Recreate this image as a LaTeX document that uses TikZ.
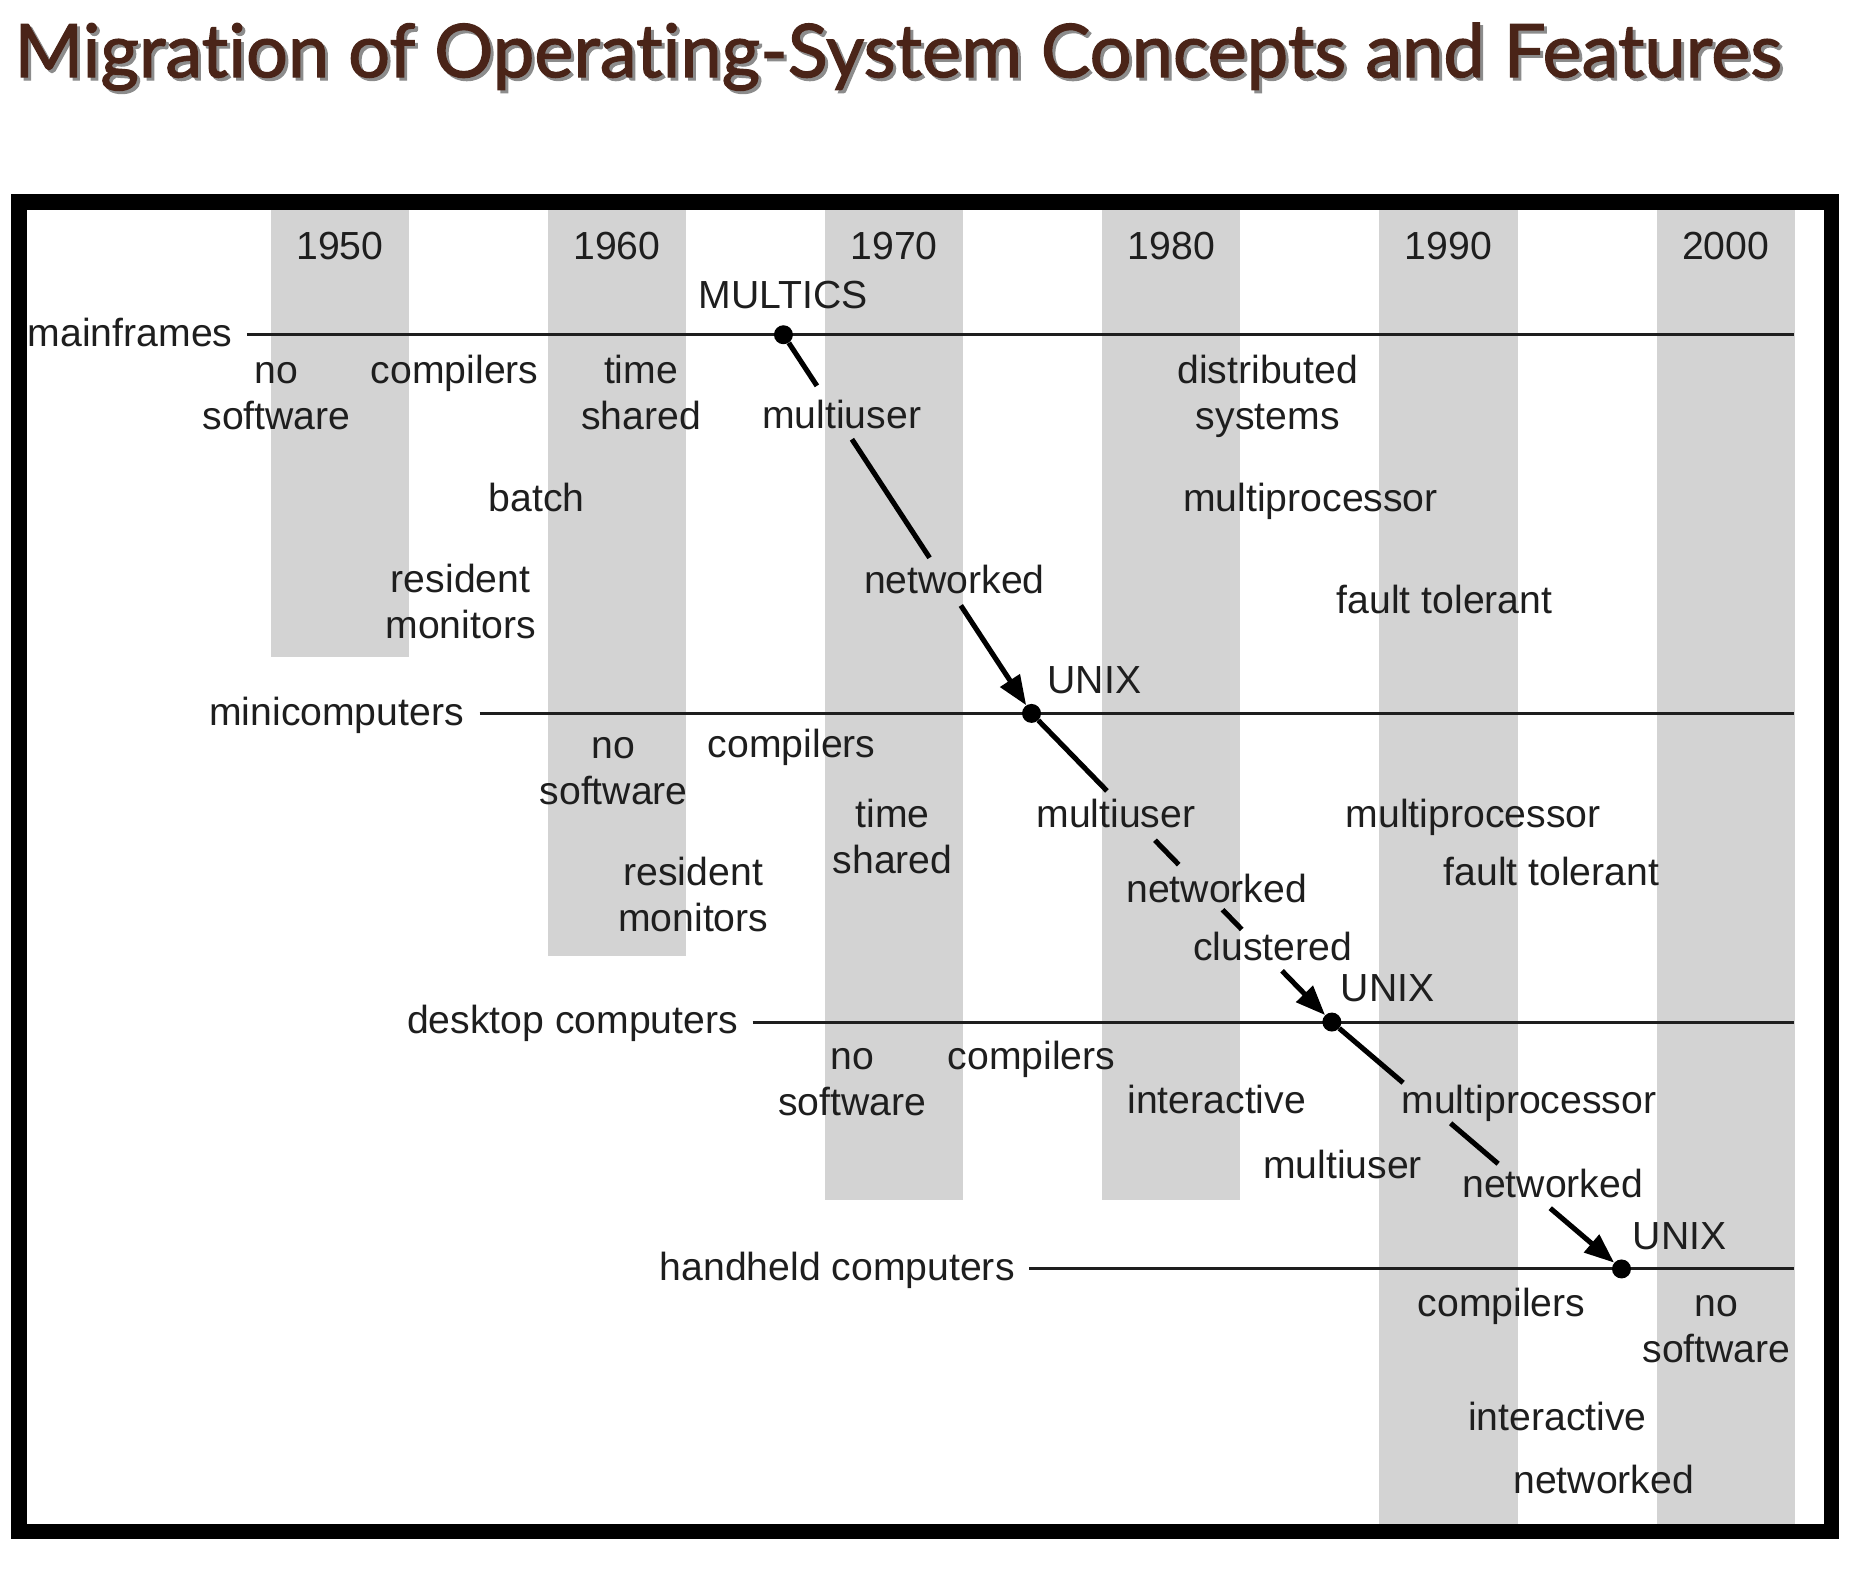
\documentclass[tikz,border=0pt]{standalone}
\usepackage{graphicx}
\usepackage{fontspec}
\setmainfont{Liberation Sans}
\newfontfamily\titlefont[FakeBold=1.6,Ligatures=NoCommon]{Lato}
\usetikzlibrary{arrows.meta,calc}
\definecolor{bandgrey}{RGB}{211,211,211}
\definecolor{titlebrown}{RGB}{74,36,24}
\definecolor{ink}{RGB}{30,30,30}
\begin{document}
\begin{tikzpicture}[x=1pt,y=-1pt,
  lbl/.style={inner sep=0pt, anchor=base, align=center, text=ink, font=\fontsize{33}{38.5}\selectfont},
  axislbl/.style={lbl, anchor=base east},
  axisline/.style={line width=2.6pt, draw=ink},
  dot/.style={circle, fill=black, inner sep=0pt, minimum size=16pt},
  chain/.style={line width=4.3pt, draw=black},
  chainarrow/.style={chain, -{Triangle[length=25pt,width=19pt]}},
  titlestyle/.style={anchor=base west, inner sep=0pt},
]
\useasboundingbox (0,0) rectangle (1570.3,1321);
% title (with its drop shadow)
\node[titlestyle, text=black!45] (titleshadow) at (14.5,67.5)
  {\resizebox{1488pt}{!}{\titlefont Migration of Operating-System Concepts and Features}};
\node[titlestyle, text=titlebrown] (title) at (12,65)
  {\resizebox{1488pt}{!}{\titlefont Migration of Operating-System Concepts and Features}};
% bands and years
\foreach \i/\yr/\bot in {0/1950/553.5, 1/1960/805, 2/1970/1011, 3/1980/1011, 4/1990/1290, 5/2000/1290} {
  \fill[bandgrey] (228+233.5*\i,176) rectangle ++(116.5,\bot-176);
  \node[lbl] (y\yr) at (286.25+233.5*\i,219) {\yr};
}
\coordinate (R) at (1511,0);
% axes
\node[axislbl] (mf) at (196,292) {mainframes};
\draw[axisline] ($(mf.base east)+(12,-10)$) coordinate (mfs) -- (mfs -| R);
\node[axislbl] (mc) at (391,611) {minicomputers};
\draw[axisline] ($(mc.base east)+(13,-10)$) coordinate (mcs) -- (mcs -| R);
\node[axislbl] (dc) at (622,871) {desktop computers};
\draw[axisline] ($(dc.base east)+(12,-10)$) coordinate (dcs) -- (dcs -| R);
\node[axislbl] (hc) at (855,1079) {handheld computers};
\draw[axisline] ($(hc.base east)+(12,-10)$) coordinate (hcs) -- (hcs -| R);
% mainframes
\node[lbl] (mfMultics) at (660,260) {MULTICS};
\node[lbl] (mfNo) at (233,361.5) {no\\software};
\node[lbl] (mfComp) at (383,323) {compilers};
\node[lbl] (mfTime) at (540,361.5) {time\\shared};
\node[lbl] (mfMulti) at (709,361) {multiuser};
\node[lbl] (mfBatch) at (452,431) {batch};
\node[lbl] (mfRes) at (388,537.5) {resident\\monitors};
\node[lbl] (mfNet) at (804,500) {networked};
\node[lbl] (mfDist) at (1068,361.5) {distributed\\systems};
\node[lbl] (mfMp) at (1104,431) {multiprocessor};
\node[lbl] (mfFt) at (1217,517) {fault tolerant};
% minicomputers
\node[lbl] (mcUnix) at (922,584) {UNIX};
\node[lbl] (mcNo) at (517,677.5) {no\\software};
\node[lbl] (mcComp) at (667,638) {compilers};
\node[lbl] (mcTime) at (752,735.5) {time\\shared};
\node[lbl] (mcMulti) at (940,697) {multiuser};
\node[lbl] (mcRes) at (584,784.5) {resident\\monitors};
\node[lbl] (mcNet) at (1025,760) {networked};
\node[lbl] (mcClu) at (1072,809) {clustered};
\node[lbl] (mcMp) at (1241,697) {multiprocessor};
\node[lbl] (mcFt) at (1307,746) {fault tolerant};
% desktop
\node[lbl] (dcUnix) at (1169,844) {UNIX};
\node[lbl] (dcNo) at (718,939.5) {no\\software};
\node[lbl] (dcComp) at (869,901) {compilers};
\node[lbl] (dcInt) at (1025,938) {interactive};
\node[lbl] (dcMp) at (1288,938) {multiprocessor};
\node[lbl] (dcMulti) at (1131,993) {multiuser};
\node[lbl] (dcNet) at (1308,1009) {networked};
% handheld
\node[lbl] (hcUnix) at (1415,1053) {UNIX};
\node[lbl] (hcComp) at (1265,1109) {compilers};
\node[lbl] (hcNo) at (1446,1147.5) {no\\software};
\node[lbl] (hcInt) at (1312,1205) {interactive};
\node[lbl] (hcNet) at (1351,1258) {networked};
% dots
\node[dot] (d1) at (660,282) {};
\node[dot] (d2) at (869,601) {};
\node[dot] (d3) at (1122,861) {};
\node[dot] (d4) at (1366,1069) {};
% chains
\draw[chain] (d1) -- ($(d1)!0.135!(d2)$);
\draw[chain] ($(d1)!0.276!(d2)$) -- ($(d1)!0.589!(d2)$);
\draw[chainarrow] ($(d1)!0.715!(d2)$) -- (d2);
\draw[chain] (d2) -- ($(d2)!0.251!(d3)$);
\draw[chain] ($(d2)!0.411!(d3)$) -- ($(d2)!0.490!(d3)$);
\draw[chain] ($(d2)!0.636!(d3)$) -- ($(d2)!0.700!(d3)$);
\draw[chainarrow] ($(d2)!0.834!(d3)$) -- (d3);
\draw[chain] (d3) -- ($(d3)!0.246!(d4)$);
\draw[chain] ($(d3)!0.41!(d4)$) -- ($(d3)!0.574!(d4)$);
\draw[chainarrow] ($(d3)!0.754!(d4)$) -- (d4);
% frame
\draw[line width=13pt] (16,170) rectangle (1543,1290);
\end{tikzpicture}
\end{document}
